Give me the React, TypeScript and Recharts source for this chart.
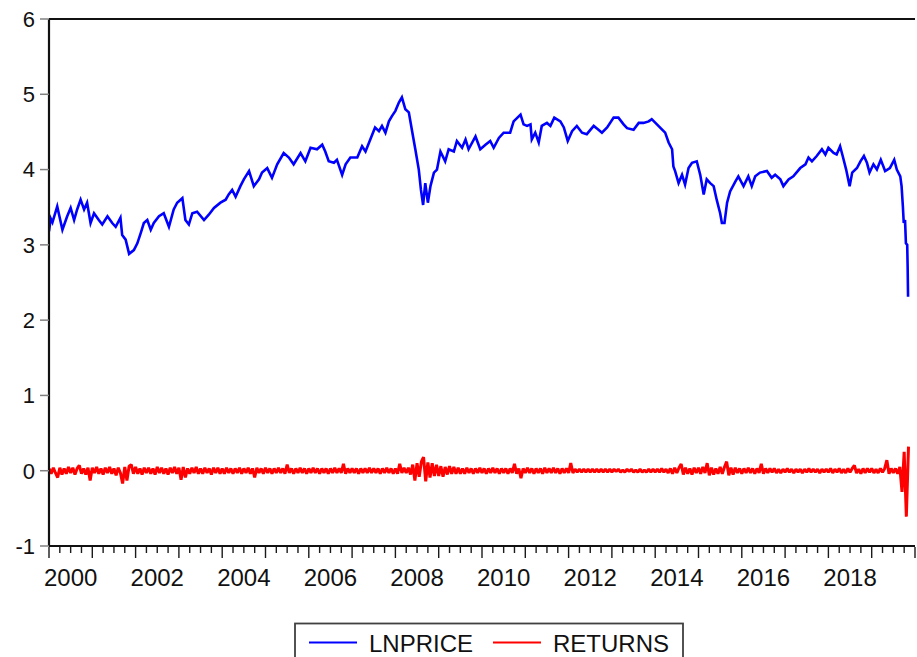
import React from 'react'
import { LineChart, Line, XAxis, YAxis, ReferenceLine } from 'recharts'

const FONT = '"Liberation Sans", Arial, sans-serif'

// LNPRICE (fractional year, value)
const priceYears = [
  2000.0, 2000.04, 2000.08, 2000.19, 2000.31, 2000.42, 2000.5, 2000.58, 2000.65, 2000.73, 2000.81, 2000.88, 2000.96,
  2001.04, 2001.15, 2001.23, 2001.35, 2001.46, 2001.54, 2001.65, 2001.69, 2001.77, 2001.85, 2001.96,
  2002.04, 2002.12, 2002.19, 2002.27, 2002.35, 2002.42, 2002.54, 2002.65, 2002.77, 2002.88, 2002.96,
  2003.08, 2003.15, 2003.23, 2003.31, 2003.42, 2003.58, 2003.69, 2003.81, 2003.96,
  2004.08, 2004.15, 2004.23, 2004.31, 2004.42, 2004.5, 2004.62, 2004.73, 2004.85, 2004.92,
  2005.04, 2005.15, 2005.27, 2005.42, 2005.54, 2005.65, 2005.81, 2005.92,
  2006.04, 2006.19, 2006.31, 2006.38, 2006.46, 2006.58, 2006.65, 2006.77, 2006.85, 2006.96,
  2007.12, 2007.23, 2007.31, 2007.42, 2007.53, 2007.62, 2007.69, 2007.77, 2007.85, 2007.92,
  2008.0, 2008.08, 2008.15, 2008.23, 2008.31, 2008.38, 2008.46, 2008.54, 2008.59, 2008.64, 2008.69, 2008.75, 2008.81, 2008.89, 2008.96,
  2009.04, 2009.15, 2009.23, 2009.35, 2009.42, 2009.54, 2009.62, 2009.69, 2009.85, 2009.96,
  2010.08, 2010.19, 2010.27, 2010.39, 2010.5, 2010.65, 2010.73, 2010.89, 2010.96,
  2011.04, 2011.12, 2011.15, 2011.23, 2011.31, 2011.38, 2011.5, 2011.58, 2011.67, 2011.81, 2011.89, 2011.98,
  2012.08, 2012.19, 2012.31, 2012.42, 2012.58, 2012.69, 2012.77, 2012.89,
  2013.04, 2013.15, 2013.27, 2013.35, 2013.5, 2013.62, 2013.73, 2013.85, 2013.92,
  2014.04, 2014.16, 2014.23, 2014.31, 2014.39, 2014.42, 2014.46, 2014.54, 2014.62, 2014.69, 2014.77, 2014.85, 2014.96,
  2015.04, 2015.12, 2015.19, 2015.27, 2015.35, 2015.42, 2015.5, 2015.54, 2015.6, 2015.66, 2015.73, 2015.85, 2015.92,
  2016.04, 2016.15, 2016.23, 2016.31, 2016.42, 2016.58, 2016.69, 2016.77, 2016.89, 2016.96,
  2017.08, 2017.19, 2017.35, 2017.47, 2017.54, 2017.62, 2017.73, 2017.85, 2017.93,
  2018.0, 2018.12, 2018.19, 2018.27, 2018.33, 2018.41, 2018.49, 2018.55, 2018.66, 2018.74, 2018.82, 2018.89, 2018.95,
  2019.04, 2019.12, 2019.21, 2019.31, 2019.42, 2019.52, 2019.58, 2019.66, 2019.69, 2019.72, 2019.74, 2019.77, 2019.79, 2019.82, 2019.83, 2019.84,
]
const lnprice = [
  3.18, 3.35, 3.3, 3.51, 3.2, 3.38, 3.49, 3.33, 3.47, 3.6, 3.47, 3.56, 3.29,
  3.42, 3.33, 3.27, 3.38, 3.29, 3.24, 3.36, 3.13, 3.07, 2.88, 2.93,
  3.02, 3.16, 3.29, 3.33, 3.2, 3.29, 3.38, 3.42, 3.24, 3.47, 3.56,
  3.62, 3.33, 3.27, 3.42, 3.44, 3.33, 3.4, 3.49, 3.56,
  3.6, 3.67, 3.73, 3.64, 3.78, 3.87, 3.98, 3.78, 3.87, 3.96,
  4.02, 3.89, 4.07, 4.22, 4.16, 4.07, 4.22, 4.11,
  4.29, 4.27, 4.33, 4.24, 4.11, 4.09, 4.13, 3.93, 4.07, 4.16,
  4.16, 4.31, 4.24, 4.4, 4.56, 4.51, 4.58, 4.49, 4.64, 4.71,
  4.78, 4.89, 4.96, 4.8, 4.76, 4.53, 4.27, 4.0, 3.73, 3.53, 3.82, 3.56, 3.78, 3.96, 4.0,
  4.24, 4.11, 4.27, 4.24, 4.38, 4.29, 4.4, 4.27, 4.44, 4.27,
  4.33, 4.38, 4.29, 4.42, 4.49, 4.49, 4.64, 4.73, 4.6,
  4.58, 4.6, 4.4, 4.49, 4.36, 4.58, 4.62, 4.58, 4.69, 4.64, 4.56, 4.38,
  4.51, 4.58, 4.49, 4.47, 4.58, 4.53, 4.49, 4.56,
  4.69, 4.69, 4.6, 4.55, 4.53, 4.62, 4.62, 4.64, 4.67,
  4.6, 4.53, 4.49, 4.36, 4.27, 4.04, 3.98, 3.82, 3.93, 3.8, 4.02, 4.09, 4.11,
  3.93, 3.67, 3.87, 3.82, 3.78, 3.6, 3.42, 3.29, 3.29, 3.56, 3.71, 3.84, 3.91,
  3.78, 3.91, 3.78, 3.91, 3.96, 3.98, 3.89, 3.93, 3.87, 3.78,
  3.87, 3.91, 4.02, 4.07, 4.16, 4.11, 4.18, 4.27, 4.2,
  4.29, 4.22, 4.2, 4.31, 4.18, 4.0, 3.78, 3.96, 4.02, 4.11, 4.18, 4.09, 3.96,
  4.07, 4.0, 4.13, 3.98, 4.02, 4.13, 4.0, 3.91, 3.78, 3.51, 3.29, 3.33, 3.02, 3.0, 2.71, 2.31,
]

// RETURNS, 20 readings a year from the start of 2000
const returnsStart = 2000
const returnsStep = 0.05
const returns = [
  0.03, -0.04, 0.04, -0.03, -0.09, 0.04, -0.05, 0.03, -0.04, 0.05, -0.03, 0.04, -0.05, 0.03, 0.07, -0.04, 0.03, -0.05, 0.04, -0.13,
  0.04, -0.03, 0.05, -0.04, 0.03, -0.05, 0.04, -0.03, 0.05, -0.04, 0.03, -0.06, 0.04, -0.03, -0.17, 0.05, -0.13, 0.06, 0.08, -0.04,
  0.05, -0.04, 0.03, -0.05, 0.04, -0.03, 0.04, -0.04, 0.03, -0.05, 0.05, -0.03, 0.04, -0.04, 0.03, -0.05, 0.04, -0.03, 0.05, -0.04,
  0.04, -0.12, 0.05, -0.09, 0.03, -0.04, 0.04, -0.03, 0.05, -0.04, 0.03, -0.04, 0.04, -0.03, 0.03, -0.05, 0.04, -0.03, 0.04, -0.04,
  0.03, -0.04, 0.04, -0.03, 0.03, -0.04, 0.03, -0.03, 0.04, -0.04, 0.03, -0.03, 0.04, -0.04, 0.03, -0.09, 0.04, -0.03, 0.03, -0.04,
  0.04, -0.03, 0.03, -0.04, 0.03, -0.03, 0.04, -0.03, 0.03, -0.04, 0.08, -0.03, 0.03, -0.04, 0.03, -0.03, 0.04, -0.03, 0.03, -0.04,
  0.03, -0.03, 0.04, -0.03, 0.03, -0.04, 0.03, -0.03, 0.03, -0.04, 0.03, -0.03, 0.04, -0.03, 0.03, -0.03, 0.09, -0.04, 0.03, -0.03,
  0.03, -0.03, 0.03, -0.04, 0.03, -0.03, 0.03, -0.03, 0.04, -0.03, 0.03, -0.03, 0.03, -0.04, 0.03, -0.03, 0.04, -0.03, 0.03, -0.04,
  0.03, -0.04, 0.09, -0.03, 0.04, -0.03, 0.04, -0.05, 0.08, -0.13, 0.1, -0.08, 0.12, 0.18, -0.14, 0.11, -0.09, 0.1, -0.07, 0.08,
  -0.07, 0.06, -0.08, 0.05, -0.05, 0.06, -0.04, 0.05, -0.04, 0.04, -0.04, 0.03, -0.04, 0.04, -0.03, 0.03, -0.04, 0.03, -0.03, 0.04,
  -0.03, 0.03, -0.04, 0.03, -0.03, 0.04, -0.03, 0.03, -0.04, 0.03, -0.03, 0.03, -0.04, 0.03, -0.03, 0.09, -0.04, 0.03, -0.1, 0.03,
  -0.03, 0.04, -0.03, 0.03, -0.04, 0.03, -0.03, 0.03, -0.04, 0.04, -0.03, 0.03, -0.03, 0.04, -0.03, 0.03, -0.04, 0.03, -0.03, 0.03,
  -0.03, 0.1, -0.03, 0.02, -0.02, 0.02, -0.02, 0.02, -0.02, 0.02, -0.02, 0.02, -0.02, 0.02, -0.02, 0.02, -0.02, 0.02, -0.02, 0.02,
  -0.02, 0.02, -0.01, 0.02, -0.02, 0.01, -0.02, 0.02, -0.01, 0.02, -0.02, 0.01, -0.02, 0.02, -0.02, 0.01, -0.02, 0.02, -0.02, 0.02,
  -0.02, 0.02, -0.02, 0.03, -0.02, 0.02, -0.03, 0.03, -0.04, 0.04, -0.03, 0.04, 0.09, -0.05, 0.04, -0.04, 0.03, -0.05, 0.04, -0.03,
  0.04, -0.04, 0.05, -0.03, 0.1, -0.06, 0.04, -0.05, 0.03, -0.04, 0.05, -0.04, 0.05, 0.12, -0.06, 0.04, -0.05, 0.04, -0.03, 0.03,
  -0.04, 0.03, -0.03, 0.04, -0.03, 0.03, -0.04, 0.03, -0.03, 0.09, -0.04, 0.03, -0.03, 0.03, -0.02, 0.03, -0.03, 0.02, -0.03, 0.02,
  -0.02, 0.03, -0.02, 0.02, -0.03, 0.02, -0.02, 0.02, -0.03, 0.02, -0.02, 0.03, -0.02, 0.02, -0.02, 0.02, -0.03, 0.02, -0.02, 0.02,
  -0.02, 0.03, -0.03, 0.02, -0.02, 0.03, -0.03, 0.02, -0.03, 0.03, -0.02, 0.03, 0.07, -0.03, 0.02, -0.04, 0.03, -0.03, 0.03, -0.02,
  0.03, -0.03, 0.02, -0.03, 0.03, -0.02, 0.03, 0.14, -0.04, 0.03, -0.03, 0.03, -0.04, 0.05, -0.28, 0.25, -0.61, 0.32,
]

const yTicks = [-1, 0, 1, 2, 3, 4, 5, 6]
const xLabelYears = [2000, 2002, 2004, 2006, 2008, 2010, 2012, 2014, 2016, 2018]

// quarter tick marks, 2000..2020
const xTicks: number[] = []
for (let q = 0; q <= 80; q++) xTicks.push(2000 + q / 4)

const rows = [
  ...priceYears.map((t, i) => ({ t, lnprice: lnprice[i] })),
  ...returns.map((r, i) => ({ t: +(returnsStart + i * returnsStep).toFixed(3), returns: r })),
].sort((a, b) => a.t - b.t)

function YearTick(props: any) {
  const { x, y, payload } = props
  const v = payload.value
  const whole = Math.abs(v - Math.round(v)) < 1e-6
  const yr = Math.floor(v + 1e-6)
  const mid = Math.abs(v - yr - 0.5) < 1e-6
  return (
    <g>
      <line x1={x} x2={x} y1={y + 1} y2={y + (whole ? 12 : 7)} stroke="#1a1a1a" strokeWidth={1.4} />
      {mid && xLabelYears.includes(yr) && (
        <text x={x} y={y + 40} textAnchor="middle" fontSize={24} fontFamily={FONT} fill="#111">
          {yr}
        </text>
      )}
    </g>
  )
}

export default function App() {
  return (
    <div style={{ position: 'absolute', left: 0, top: 0, width: 917, height: 657, overflow: 'hidden', background: '#fff' }}>
      <LineChart width={917} height={657} data={rows} margin={{ top: 19, right: 2, bottom: 0, left: 0 }}>
        <XAxis
          dataKey="t"
          type="number"
          domain={[2000, 2020]}
          ticks={xTicks}
          interval={0}
          tickSize={0}
          tickMargin={0}
          tickLine={false}
          tick={<YearTick />}
          height={111}
          axisLine={{ stroke: '#111', strokeWidth: 2 }}
          allowDataOverflow
        />
        <YAxis
          type="number"
          domain={[-1, 6]}
          ticks={yTicks}
          interval={0}
          width={49}
          tickSize={9}
          tickMargin={5}
          tickLine={{ stroke: '#808080', strokeWidth: 1.5 }}
          axisLine={{ stroke: '#111', strokeWidth: 2.2 }}
          tick={{ fontSize: 22, fill: '#111', fontFamily: FONT }}
          allowDataOverflow
        />
        <ReferenceLine y={6} stroke="#111" strokeWidth={2} />
        <Line
          dataKey="lnprice"
          stroke="#0000ff"
          strokeWidth={2.6}
          strokeLinejoin="miter"
          dot={false}
          connectNulls
          isAnimationActive={false}
        />
        <Line
          dataKey="returns"
          stroke="#ff0000"
          strokeWidth={3}
          strokeLinejoin="bevel"
          dot={false}
          connectNulls
          isAnimationActive={false}
        />
      </LineChart>
      <svg width={917} height={657} style={{ position: 'absolute', left: 0, top: 0, pointerEvents: 'none' }}>
        <rect x={295} y={623.5} width={388} height={44} fill="#fff" stroke="#404040" strokeWidth={1.8} />
        <line x1={309} x2={357} y1={642.5} y2={642.5} stroke="#0000ff" strokeWidth={2} />
        <text x={369} y={651.5} fontSize={24} fontFamily={FONT} fill="#111">LNPRICE</text>
        <line x1={493} x2={541} y1={642.5} y2={642.5} stroke="#ff0000" strokeWidth={2} />
        <text x={553} y={651.5} fontSize={24} fontFamily={FONT} fill="#111">RETURNS</text>
      </svg>
    </div>
  )
}
